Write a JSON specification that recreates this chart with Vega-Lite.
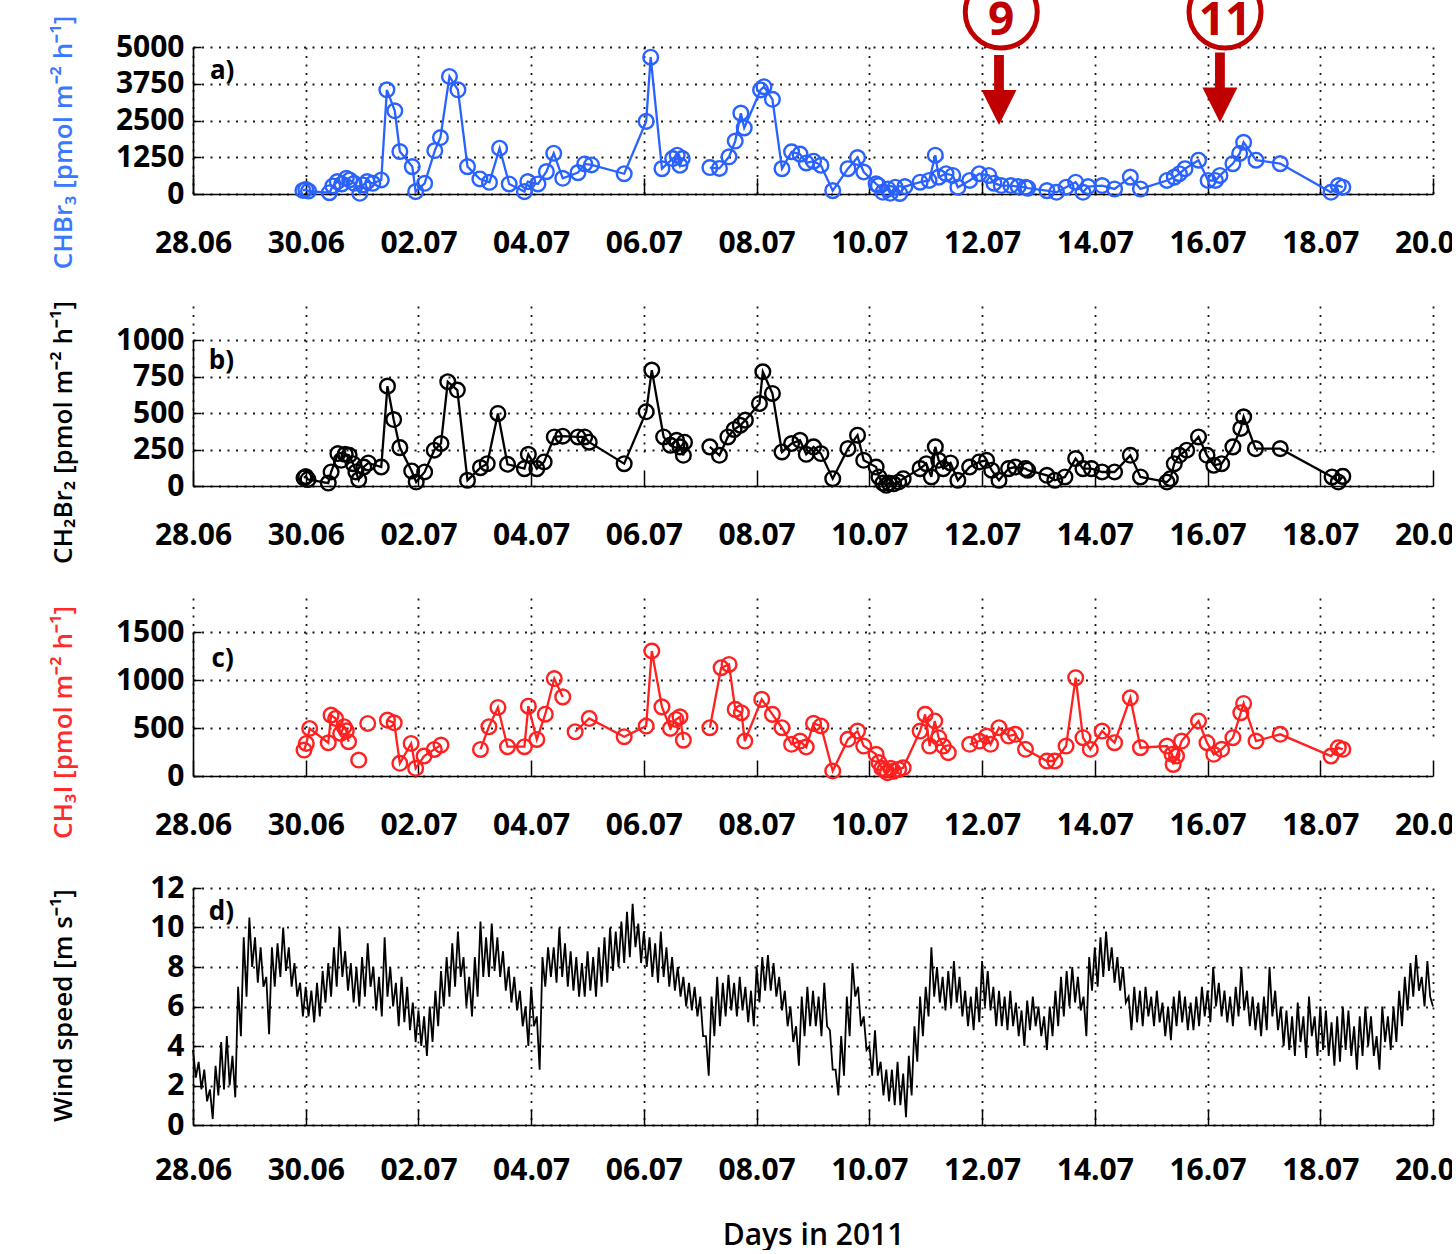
{
"$schema": "https://vega.github.io/schema/vega-lite/v6.json",
"autosize": {"type": "pad"},
"padding": {"left": 50, "top": -34, "right": -20, "bottom": 0},
"background": "white",
"bounds": "flush",
"spacing": 112,
"config": {
  "view": {"stroke": null},
  "font": "Open Sans",
  "axis": {"labelFont": "Open Sans", "labelFontSize": 30, "labelFontWeight": "bold", "labelColor": "black", "domainColor": "black", "domainWidth": 1.6, "tickColor": "black", "tickWidth": 1.5, "gridColor": "black", "gridDash": [2, 6.5], "gridWidth": 1.8, "gridOpacity": 0.9, "titleFont": "Open Sans", "titleFontSize": 26, "titleFontWeight": 600, "titleColor": "black"},
  "axisX": {"tickSize": -16, "labelPadding": 52, "labelFlush": false, "labelOverlap": false, "grid": true},
  "axisY": {"tickSize": -8, "labelPadding": 17, "titleBaseline": "alphabetic", "grid": true, "labelOverlap": false, "format": "d"}
},
"datasets": {
"chbr3": [
{"doy":180.95,"v":120,"seg":1},{"doy":181.0,"v":150,"seg":1},{"doy":181.05,"v":100,"seg":1},{"doy":181.42,"v":45,"seg":1},{"doy":181.48,"v":273,"seg":1},{"doy":181.56,"v":420,"seg":1},{"doy":181.64,"v":341,"seg":1},{"doy":181.72,"v":534,"seg":1},{"doy":181.78,"v":477,"seg":1},{"doy":181.86,"v":364,"seg":1},{"doy":181.96,"v":23,"seg":1},{"doy":182.02,"v":307,"seg":1},{"doy":182.09,"v":420,"seg":1},{"doy":182.19,"v":364,"seg":1},{"doy":182.34,"v":477,"seg":1},{"doy":182.44,"v":3544,"seg":1},{"doy":182.58,"v":2829,"seg":1},{"doy":182.67,"v":1443,"seg":1},{"doy":182.89,"v":932,"seg":1},{"doy":182.95,"v":80,"seg":1},{"doy":183.11,"v":364,"seg":1},{"doy":183.29,"v":1477,"seg":1},{"doy":183.39,"v":1920,"seg":1},{"doy":183.55,"v":3999,"seg":1},{"doy":183.7,"v":3544,"seg":1},{"doy":183.87,"v":932,"seg":1},{"doy":184.09,"v":511,"seg":1},{"doy":184.26,"v":398,"seg":1},{"doy":184.44,"v":1556,"seg":1},{"doy":184.61,"v":341,"seg":1},{"doy":184.88,"v":80,"seg":1},{"doy":184.94,"v":420,"seg":1},{"doy":185.12,"v":341,"seg":1},{"doy":185.27,"v":761,"seg":1},{"doy":185.4,"v":1386,"seg":1},{"doy":185.56,"v":534,"seg":1},{"doy":185.83,"v":727,"seg":1},{"doy":185.95,"v":1022,"seg":1},{"doy":186.07,"v":988,"seg":1},{"doy":186.65,"v":689,"seg":1},{"doy":187.04,"v":2470,"seg":1},{"doy":187.12,"v":4653,"seg":1},{"doy":187.32,"v":862,"seg":1},{"doy":187.51,"v":1206,"seg":1},{"doy":187.59,"v":1321,"seg":1},{"doy":187.64,"v":977,"seg":1},{"doy":187.68,"v":1206,"seg":1},
{"doy":188.17,"v":900,"seg":2},{"doy":188.34,"v":870,"seg":2},{"doy":188.51,"v":1264,"seg":2},{"doy":188.62,"v":1800,"seg":2},{"doy":188.72,"v":2750,"seg":2},{"doy":188.78,"v":2250,"seg":2},{"doy":189.07,"v":3540,"seg":2},{"doy":189.13,"v":3650,"seg":2},{"doy":189.28,"v":3220,"seg":2},{"doy":189.45,"v":862,"seg":2},{"doy":189.62,"v":1436,"seg":2},{"doy":189.77,"v":1356,"seg":2},{"doy":189.88,"v":1057,"seg":2},{"doy":190.01,"v":1115,"seg":2},{"doy":190.14,"v":977,"seg":2},{"doy":190.35,"v":115,"seg":2},{"doy":190.62,"v":862,"seg":2},{"doy":190.79,"v":1241,"seg":2},{"doy":190.9,"v":747,"seg":2},{"doy":191.12,"v":345,"seg":2},{"doy":191.16,"v":287,"seg":2},{"doy":191.24,"v":57,"seg":2},{"doy":191.33,"v":172,"seg":2},{"doy":191.37,"v":23,"seg":2},{"doy":191.46,"v":230,"seg":2},{"doy":191.54,"v":20,"seg":2},{"doy":191.63,"v":253,"seg":2},{"doy":191.9,"v":402,"seg":2},{"doy":192.06,"v":460,"seg":2},{"doy":192.17,"v":1321,"seg":2},{"doy":192.23,"v":575,"seg":2},{"doy":192.36,"v":689,"seg":2},{"doy":192.48,"v":632,"seg":2},{"doy":192.57,"v":230,"seg":2},{"doy":192.78,"v":460,"seg":2},{"doy":192.95,"v":689,"seg":2},{"doy":193.12,"v":632,"seg":2},{"doy":193.21,"v":368,"seg":2},{"doy":193.34,"v":287,"seg":2},{"doy":193.51,"v":287,"seg":2},{"doy":193.64,"v":253,"seg":2},{"doy":193.77,"v":230,"seg":2},{"doy":193.81,"v":200,"seg":2},{"doy":194.15,"v":115,"seg":2},{"doy":194.32,"v":57,"seg":2},{"doy":194.49,"v":230,"seg":2},{"doy":194.66,"v":402,"seg":2},{"doy":194.79,"v":57,"seg":2},{"doy":194.88,"v":253,"seg":2},{"doy":195.13,"v":287,"seg":2},{"doy":195.35,"v":172,"seg":2},{"doy":195.63,"v":575,"seg":2},{"doy":195.81,"v":172,"seg":2},{"doy":196.28,"v":460,"seg":2},{"doy":196.41,"v":575,"seg":2},{"doy":196.5,"v":689,"seg":2},{"doy":196.6,"v":862,"seg":2},{"doy":196.84,"v":1149,"seg":2},{"doy":197.01,"v":460,"seg":2},{"doy":197.14,"v":460,"seg":2},{"doy":197.22,"v":632,"seg":2},{"doy":197.45,"v":1034,"seg":2},{"doy":197.57,"v":1379,"seg":2},{"doy":197.64,"v":1760,"seg":2},{"doy":197.86,"v":1149,"seg":2},{"doy":198.29,"v":1034,"seg":2},{"doy":199.19,"v":57,"seg":2},{"doy":199.32,"v":287,"seg":2},{"doy":199.4,"v":230,"seg":2}
],
"ch2br2": [
{"doy":180.97,"v":55,"seg":1},{"doy":181.0,"v":65,"seg":1},{"doy":181.04,"v":45,"seg":1},{"doy":181.4,"v":20,"seg":1},{"doy":181.45,"v":96,"seg":1},{"doy":181.57,"v":222,"seg":1},{"doy":181.63,"v":176,"seg":1},{"doy":181.7,"v":217,"seg":1},{"doy":181.77,"v":210,"seg":1},{"doy":181.84,"v":153,"seg":1},{"doy":181.89,"v":96,"seg":1},{"doy":181.94,"v":43,"seg":1},{"doy":182.03,"v":130,"seg":1},{"doy":182.11,"v":158,"seg":1},{"doy":182.34,"v":130,"seg":1},{"doy":182.45,"v":684,"seg":1},{"doy":182.56,"v":455,"seg":1},{"doy":182.67,"v":263,"seg":1},{"doy":182.88,"v":103,"seg":1},{"doy":182.96,"v":27,"seg":1},{"doy":183.11,"v":96,"seg":1},{"doy":183.28,"v":245,"seg":1},{"doy":183.4,"v":291,"seg":1},{"doy":183.52,"v":714,"seg":1},{"doy":183.69,"v":657,"seg":1},{"doy":183.87,"v":39,"seg":1},{"doy":184.1,"v":126,"seg":1},{"doy":184.22,"v":153,"seg":1},{"doy":184.41,"v":497,"seg":1},{"doy":184.58,"v":149,"seg":1},{"doy":184.88,"v":119,"seg":1},{"doy":184.95,"v":217,"seg":1},{"doy":185.1,"v":119,"seg":1},{"doy":185.23,"v":165,"seg":1},{"doy":185.41,"v":336,"seg":1},{"doy":185.56,"v":341,"seg":1},{"doy":185.83,"v":336,"seg":1},{"doy":185.95,"v":336,"seg":1},{"doy":186.03,"v":300,"seg":1},{"doy":186.65,"v":153,"seg":1},{"doy":187.04,"v":508,"seg":1},{"doy":187.14,"v":794,"seg":1},{"doy":187.35,"v":336,"seg":1},{"doy":187.47,"v":279,"seg":1},{"doy":187.58,"v":313,"seg":1},{"doy":187.64,"v":268,"seg":1},{"doy":187.7,"v":210,"seg":1},{"doy":187.72,"v":300,"seg":1},
{"doy":188.17,"v":268,"seg":2},{"doy":188.34,"v":210,"seg":2},{"doy":188.49,"v":336,"seg":2},{"doy":188.6,"v":387,"seg":2},{"doy":188.71,"v":416,"seg":2},{"doy":188.8,"v":451,"seg":2},{"doy":189.05,"v":565,"seg":2},{"doy":189.11,"v":782,"seg":2},{"doy":189.28,"v":634,"seg":2},{"doy":189.45,"v":233,"seg":2},{"doy":189.62,"v":291,"seg":2},{"doy":189.77,"v":313,"seg":2},{"doy":189.88,"v":217,"seg":2},{"doy":190.01,"v":268,"seg":2},{"doy":190.14,"v":222,"seg":2},{"doy":190.35,"v":50,"seg":2},{"doy":190.62,"v":256,"seg":2},{"doy":190.79,"v":348,"seg":2},{"doy":190.9,"v":176,"seg":2},{"doy":191.12,"v":130,"seg":2},{"doy":191.17,"v":62,"seg":2},{"doy":191.24,"v":20,"seg":2},{"doy":191.3,"v":5,"seg":2},{"doy":191.35,"v":20,"seg":2},{"doy":191.43,"v":15,"seg":2},{"doy":191.52,"v":27,"seg":2},{"doy":191.6,"v":50,"seg":2},{"doy":191.9,"v":119,"seg":2},{"doy":192.01,"v":153,"seg":2},{"doy":192.1,"v":62,"seg":2},{"doy":192.17,"v":268,"seg":2},{"doy":192.23,"v":176,"seg":2},{"doy":192.31,"v":119,"seg":2},{"doy":192.44,"v":158,"seg":2},{"doy":192.57,"v":39,"seg":2},{"doy":192.78,"v":130,"seg":2},{"doy":192.95,"v":165,"seg":2},{"doy":193.08,"v":176,"seg":2},{"doy":193.17,"v":108,"seg":2},{"doy":193.3,"v":39,"seg":2},{"doy":193.47,"v":119,"seg":2},{"doy":193.59,"v":130,"seg":2},{"doy":193.77,"v":119,"seg":2},{"doy":193.81,"v":108,"seg":2},{"doy":194.15,"v":73,"seg":2},{"doy":194.29,"v":39,"seg":2},{"doy":194.47,"v":62,"seg":2},{"doy":194.66,"v":188,"seg":2},{"doy":194.79,"v":119,"seg":2},{"doy":194.94,"v":119,"seg":2},{"doy":195.13,"v":96,"seg":2},{"doy":195.35,"v":96,"seg":2},{"doy":195.63,"v":210,"seg":2},{"doy":195.81,"v":62,"seg":2},{"doy":196.28,"v":27,"seg":2},{"doy":196.34,"v":50,"seg":2},{"doy":196.41,"v":153,"seg":2},{"doy":196.5,"v":210,"seg":2},{"doy":196.63,"v":245,"seg":2},{"doy":196.84,"v":336,"seg":2},{"doy":196.99,"v":210,"seg":2},{"doy":197.11,"v":142,"seg":2},{"doy":197.25,"v":153,"seg":2},{"doy":197.45,"v":268,"seg":2},{"doy":197.59,"v":394,"seg":2},{"doy":197.64,"v":474,"seg":2},{"doy":197.85,"v":256,"seg":2},{"doy":198.29,"v":256,"seg":2},{"doy":199.21,"v":62,"seg":2},{"doy":199.32,"v":27,"seg":2},{"doy":199.4,"v":66,"seg":2}
],
"ch3i": [
{"doy":180.97,"v":270,"seg":1},{"doy":181.01,"v":339,"seg":1},{"doy":181.07,"v":495,"seg":1},{"doy":181.4,"v":346,"seg":1},{"doy":181.45,"v":634,"seg":1},{"doy":181.53,"v":599,"seg":1},{"doy":181.62,"v":443,"seg":1},{"doy":181.68,"v":513,"seg":1},{"doy":181.72,"v":471,"seg":1},{"doy":181.76,"v":357,"seg":1},
{"doy":181.94,"v":166,"seg":2},
{"doy":182.1,"v":547,"seg":3},
{"doy":182.45,"v":582,"seg":4},{"doy":182.57,"v":554,"seg":4},{"doy":182.67,"v":132,"seg":4},{"doy":182.87,"v":339,"seg":4},{"doy":182.95,"v":80,"seg":4},{"doy":183.1,"v":208,"seg":4},{"doy":183.28,"v":277,"seg":4},{"doy":183.4,"v":322,"seg":4},
{"doy":184.1,"v":277,"seg":5},{"doy":184.25,"v":513,"seg":5},{"doy":184.41,"v":714,"seg":5},{"doy":184.58,"v":305,"seg":5},{"doy":184.88,"v":305,"seg":5},{"doy":184.95,"v":727,"seg":5},{"doy":185.1,"v":381,"seg":5},{"doy":185.25,"v":644,"seg":5},{"doy":185.41,"v":1015,"seg":5},{"doy":185.56,"v":824,"seg":5},
{"doy":185.78,"v":461,"seg":6},{"doy":186.03,"v":599,"seg":6},{"doy":186.65,"v":409,"seg":6},{"doy":187.04,"v":520,"seg":6},{"doy":187.14,"v":1302,"seg":6},{"doy":187.32,"v":720,"seg":6},{"doy":187.47,"v":495,"seg":6},{"doy":187.57,"v":589,"seg":6},{"doy":187.64,"v":617,"seg":6},{"doy":187.7,"v":374,"seg":6},
{"doy":188.17,"v":503,"seg":7},{"doy":188.37,"v":1128,"seg":7},{"doy":188.51,"v":1162,"seg":7},{"doy":188.62,"v":694,"seg":7},{"doy":188.73,"v":659,"seg":7},{"doy":188.79,"v":364,"seg":7},{"doy":189.09,"v":798,"seg":7},{"doy":189.28,"v":642,"seg":7},{"doy":189.45,"v":503,"seg":7},{"doy":189.62,"v":330,"seg":7},{"doy":189.77,"v":364,"seg":7},{"doy":189.88,"v":302,"seg":7},{"doy":190.01,"v":548,"seg":7},{"doy":190.14,"v":521,"seg":7},{"doy":190.35,"v":52,"seg":7},{"doy":190.62,"v":382,"seg":7},{"doy":190.79,"v":468,"seg":7},{"doy":190.9,"v":312,"seg":7},{"doy":191.12,"v":226,"seg":7},{"doy":191.17,"v":140,"seg":7},{"doy":191.22,"v":80,"seg":7},{"doy":191.27,"v":60,"seg":7},{"doy":191.32,"v":35,"seg":7},{"doy":191.38,"v":80,"seg":7},{"doy":191.43,"v":50,"seg":7},{"doy":191.52,"v":70,"seg":7},{"doy":191.6,"v":85,"seg":7},{"doy":191.9,"v":468,"seg":7},{"doy":191.99,"v":642,"seg":7},{"doy":192.07,"v":312,"seg":7},{"doy":192.16,"v":573,"seg":7},{"doy":192.23,"v":399,"seg":7},{"doy":192.31,"v":312,"seg":7},{"doy":192.4,"v":243,"seg":7},
{"doy":192.78,"v":330,"seg":8},{"doy":192.95,"v":364,"seg":8},{"doy":193.08,"v":416,"seg":8},{"doy":193.15,"v":330,"seg":8},{"doy":193.3,"v":503,"seg":8},{"doy":193.47,"v":416,"seg":8},{"doy":193.59,"v":434,"seg":8},{"doy":193.77,"v":278,"seg":8},{"doy":194.15,"v":156,"seg":8},{"doy":194.29,"v":156,"seg":8},{"doy":194.49,"v":312,"seg":8},{"doy":194.66,"v":1024,"seg":8},{"doy":194.79,"v":399,"seg":8},{"doy":194.92,"v":278,"seg":8},{"doy":195.13,"v":468,"seg":8},{"doy":195.35,"v":347,"seg":8},{"doy":195.63,"v":815,"seg":8},{"doy":195.81,"v":295,"seg":8},{"doy":196.28,"v":312,"seg":8},{"doy":196.37,"v":226,"seg":8},{"doy":196.39,"v":121,"seg":8},{"doy":196.45,"v":208,"seg":8},{"doy":196.54,"v":364,"seg":8},{"doy":196.84,"v":573,"seg":8},{"doy":196.99,"v":347,"seg":8},{"doy":197.11,"v":226,"seg":8},{"doy":197.25,"v":278,"seg":8},{"doy":197.45,"v":399,"seg":8},{"doy":197.59,"v":659,"seg":8},{"doy":197.64,"v":756,"seg":8},{"doy":197.86,"v":364,"seg":8},{"doy":198.29,"v":434,"seg":8},{"doy":199.19,"v":208,"seg":8},{"doy":199.32,"v":295,"seg":8},{"doy":199.4,"v":278,"seg":8}
],
"wind": [
{"doy":179.0,"v":3.8},{"doy":179.05,"v":2.4},{"doy":179.1,"v":3.2},{"doy":179.15,"v":1.8},{"doy":179.2,"v":2.8},{"doy":179.25,"v":1.2},{"doy":179.3,"v":1.8},{"doy":179.35,"v":0.3},{"doy":179.4,"v":3.0},{"doy":179.45,"v":1.5},
{"doy":179.5,"v":4.2},{"doy":179.55,"v":1.8},{"doy":179.6,"v":4.5},{"doy":179.65,"v":2.0},{"doy":179.7,"v":3.5},{"doy":179.75,"v":1.4},{"doy":179.8,"v":7.0},{"doy":179.85,"v":4.5},{"doy":179.9,"v":9.5},{"doy":179.95,"v":6.5},
{"doy":180.0,"v":10.5},{"doy":180.05,"v":8.0},{"doy":180.1,"v":9.5},{"doy":180.15,"v":7.2},{"doy":180.2,"v":9.0},{"doy":180.25,"v":7.0},{"doy":180.3,"v":7.5},{"doy":180.35,"v":4.6},{"doy":180.4,"v":9.0},{"doy":180.45,"v":7.0},
{"doy":180.5,"v":9.2},{"doy":180.55,"v":7.5},{"doy":180.6,"v":10.0},{"doy":180.65,"v":7.8},{"doy":180.7,"v":9.0},{"doy":180.75,"v":7.0},{"doy":180.8,"v":8.2},{"doy":180.85,"v":6.5},{"doy":180.9,"v":7.2},{"doy":180.95,"v":5.5},
{"doy":181.0,"v":7.0},{"doy":181.05,"v":5.5},{"doy":181.1,"v":6.8},{"doy":181.15,"v":5.2},{"doy":181.2,"v":7.2},{"doy":181.25,"v":5.5},{"doy":181.3,"v":7.8},{"doy":181.35,"v":6.2},{"doy":181.4,"v":8.2},{"doy":181.45,"v":6.5},
{"doy":181.5,"v":9.0},{"doy":181.55,"v":7.0},{"doy":181.6,"v":10.0},{"doy":181.65,"v":7.5},{"doy":181.7,"v":8.8},{"doy":181.75,"v":6.8},{"doy":181.8,"v":8.2},{"doy":181.85,"v":6.2},{"doy":181.9,"v":8.0},{"doy":181.95,"v":6.0},
{"doy":182.0,"v":8.5},{"doy":182.05,"v":6.5},{"doy":182.1,"v":9.2},{"doy":182.15,"v":7.0},{"doy":182.2,"v":8.0},{"doy":182.25,"v":5.8},{"doy":182.3,"v":7.5},{"doy":182.35,"v":5.5},{"doy":182.4,"v":9.5},{"doy":182.45,"v":6.5},
{"doy":182.5,"v":8.0},{"doy":182.55,"v":6.0},{"doy":182.6,"v":7.2},{"doy":182.65,"v":5.0},{"doy":182.7,"v":7.5},{"doy":182.75,"v":5.2},{"doy":182.8,"v":7.0},{"doy":182.85,"v":4.8},{"doy":182.9,"v":6.2},{"doy":182.95,"v":4.2},
{"doy":183.0,"v":5.8},{"doy":183.05,"v":4.0},{"doy":183.1,"v":5.5},{"doy":183.15,"v":3.5},{"doy":183.2,"v":6.0},{"doy":183.25,"v":4.2},{"doy":183.3,"v":6.8},{"doy":183.35,"v":5.0},{"doy":183.4,"v":7.8},{"doy":183.45,"v":6.0},
{"doy":183.5,"v":8.5},{"doy":183.55,"v":6.5},{"doy":183.6,"v":9.2},{"doy":183.65,"v":7.0},{"doy":183.7,"v":9.8},{"doy":183.75,"v":7.5},{"doy":183.8,"v":8.5},{"doy":183.85,"v":6.0},{"doy":183.9,"v":7.5},{"doy":183.95,"v":5.5},
{"doy":184.0,"v":8.5},{"doy":184.05,"v":6.5},{"doy":184.1,"v":10.3},{"doy":184.15,"v":7.5},{"doy":184.2,"v":9.5},{"doy":184.25,"v":7.5},{"doy":184.3,"v":10.2},{"doy":184.35,"v":7.8},{"doy":184.4,"v":9.5},{"doy":184.45,"v":7.5},
{"doy":184.5,"v":8.8},{"doy":184.55,"v":6.8},{"doy":184.6,"v":8.0},{"doy":184.65,"v":6.2},{"doy":184.7,"v":7.5},{"doy":184.75,"v":5.8},{"doy":184.8,"v":6.8},{"doy":184.85,"v":5.0},{"doy":184.9,"v":6.0},{"doy":184.95,"v":4.0},
{"doy":185.0,"v":7.0},{"doy":185.05,"v":5.0},{"doy":185.1,"v":5.5},{"doy":185.15,"v":2.8},{"doy":185.2,"v":8.5},{"doy":185.25,"v":7.0},{"doy":185.3,"v":9.0},{"doy":185.35,"v":7.5},{"doy":185.4,"v":9.0},{"doy":185.45,"v":7.2},
{"doy":185.5,"v":10.0},{"doy":185.55,"v":7.5},{"doy":185.6,"v":9.2},{"doy":185.65,"v":7.0},{"doy":185.7,"v":8.8},{"doy":185.75,"v":6.8},{"doy":185.8,"v":8.5},{"doy":185.85,"v":6.5},{"doy":185.9,"v":8.2},{"doy":185.95,"v":6.5},
{"doy":186.0,"v":8.8},{"doy":186.05,"v":6.8},{"doy":186.1,"v":8.5},{"doy":186.15,"v":6.5},{"doy":186.2,"v":9.0},{"doy":186.25,"v":7.0},{"doy":186.3,"v":9.5},{"doy":186.35,"v":7.2},{"doy":186.4,"v":10.0},{"doy":186.45,"v":7.8},
{"doy":186.5,"v":9.8},{"doy":186.55,"v":8.0},{"doy":186.6,"v":10.3},{"doy":186.65,"v":8.2},{"doy":186.7,"v":10.8},{"doy":186.75,"v":8.5},{"doy":186.8,"v":11.2},{"doy":186.85,"v":9.0},{"doy":186.9,"v":10.2},{"doy":186.95,"v":8.2},
{"doy":187.0,"v":9.8},{"doy":187.05,"v":8.0},{"doy":187.1,"v":9.5},{"doy":187.15,"v":7.5},{"doy":187.2,"v":9.2},{"doy":187.25,"v":7.2},{"doy":187.3,"v":9.8},{"doy":187.35,"v":7.5},{"doy":187.4,"v":9.0},{"doy":187.45,"v":7.0},
{"doy":187.5,"v":8.5},{"doy":187.55,"v":6.8},{"doy":187.6,"v":8.0},{"doy":187.65,"v":6.5},{"doy":187.7,"v":7.5},{"doy":187.75,"v":6.0},{"doy":187.8,"v":7.2},{"doy":187.85,"v":5.8},{"doy":187.9,"v":7.0},{"doy":187.95,"v":5.5},
{"doy":188.0,"v":6.5},{"doy":188.05,"v":4.5},{"doy":188.1,"v":4.5},{"doy":188.15,"v":2.5},{"doy":188.2,"v":6.5},{"doy":188.25,"v":4.5},{"doy":188.3,"v":7.5},{"doy":188.35,"v":5.0},{"doy":188.4,"v":7.2},{"doy":188.45,"v":5.5},
{"doy":188.5,"v":7.6},{"doy":188.55,"v":5.8},{"doy":188.6,"v":7.2},{"doy":188.65,"v":5.5},{"doy":188.7,"v":7.5},{"doy":188.75,"v":5.8},{"doy":188.8,"v":7.0},{"doy":188.85,"v":5.2},{"doy":188.9,"v":6.8},{"doy":188.95,"v":5.0},
{"doy":189.0,"v":8.0},{"doy":189.05,"v":6.2},{"doy":189.1,"v":8.5},{"doy":189.15,"v":6.8},{"doy":189.2,"v":8.6},{"doy":189.25,"v":6.8},{"doy":189.3,"v":8.2},{"doy":189.35,"v":6.5},{"doy":189.4,"v":7.5},{"doy":189.45,"v":5.8},
{"doy":189.5,"v":6.8},{"doy":189.55,"v":5.0},{"doy":189.6,"v":6.0},{"doy":189.65,"v":4.2},{"doy":189.7,"v":5.0},{"doy":189.75,"v":3.0},{"doy":189.8,"v":6.5},{"doy":189.85,"v":4.5},{"doy":189.9,"v":7.0},{"doy":189.95,"v":5.0},
{"doy":190.0,"v":6.8},{"doy":190.05,"v":5.0},{"doy":190.1,"v":6.5},{"doy":190.15,"v":4.5},{"doy":190.2,"v":7.2},{"doy":190.25,"v":5.0},{"doy":190.3,"v":4.8},{"doy":190.35,"v":2.8},{"doy":190.4,"v":2.8},{"doy":190.45,"v":1.5},
{"doy":190.5,"v":4.5},{"doy":190.55,"v":2.5},{"doy":190.6,"v":6.5},{"doy":190.65,"v":4.5},{"doy":190.7,"v":8.2},{"doy":190.75,"v":6.5},{"doy":190.8,"v":7.0},{"doy":190.85,"v":5.0},{"doy":190.9,"v":5.5},{"doy":190.95,"v":3.8},
{"doy":191.0,"v":4.0},{"doy":191.05,"v":2.5},{"doy":191.1,"v":4.8},{"doy":191.15,"v":2.5},{"doy":191.2,"v":3.2},{"doy":191.25,"v":1.5},{"doy":191.3,"v":2.8},{"doy":191.35,"v":1.2},{"doy":191.4,"v":2.8},{"doy":191.45,"v":1.0},
{"doy":191.5,"v":3.2},{"doy":191.55,"v":1.0},{"doy":191.6,"v":2.6},{"doy":191.65,"v":0.4},{"doy":191.7,"v":3.5},{"doy":191.75,"v":1.5},{"doy":191.8,"v":5.0},{"doy":191.85,"v":3.2},{"doy":191.9,"v":6.5},{"doy":191.95,"v":4.5},
{"doy":192.0,"v":7.0},{"doy":192.05,"v":5.5},{"doy":192.1,"v":9.0},{"doy":192.15,"v":6.5},{"doy":192.2,"v":8.0},{"doy":192.25,"v":6.2},{"doy":192.3,"v":7.5},{"doy":192.35,"v":5.8},{"doy":192.4,"v":7.8},{"doy":192.45,"v":6.0},
{"doy":192.5,"v":8.3},{"doy":192.55,"v":6.2},{"doy":192.6,"v":7.5},{"doy":192.65,"v":5.5},{"doy":192.7,"v":6.8},{"doy":192.75,"v":5.0},{"doy":192.8,"v":6.5},{"doy":192.85,"v":4.8},{"doy":192.9,"v":7.0},{"doy":192.95,"v":5.2},
{"doy":193.0,"v":8.3},{"doy":193.05,"v":6.0},{"doy":193.1,"v":7.8},{"doy":193.15,"v":5.8},{"doy":193.2,"v":7.0},{"doy":193.25,"v":5.0},{"doy":193.3,"v":6.8},{"doy":193.35,"v":5.0},{"doy":193.4,"v":6.5},{"doy":193.45,"v":4.8},
{"doy":193.5,"v":6.8},{"doy":193.55,"v":5.0},{"doy":193.6,"v":6.2},{"doy":193.65,"v":4.5},{"doy":193.7,"v":5.8},{"doy":193.75,"v":4.0},{"doy":193.8,"v":6.3},{"doy":193.85,"v":4.8},{"doy":193.9,"v":6.5},{"doy":193.95,"v":5.0},
{"doy":194.0,"v":6.0},{"doy":194.05,"v":4.5},{"doy":194.1,"v":5.5},{"doy":194.15,"v":3.8},{"doy":194.2,"v":6.0},{"doy":194.25,"v":4.5},{"doy":194.3,"v":6.8},{"doy":194.35,"v":5.0},{"doy":194.4,"v":7.5},{"doy":194.45,"v":5.5},
{"doy":194.5,"v":7.8},{"doy":194.55,"v":6.0},{"doy":194.6,"v":8.0},{"doy":194.65,"v":6.2},{"doy":194.7,"v":7.5},{"doy":194.75,"v":5.8},{"doy":194.8,"v":6.5},{"doy":194.85,"v":4.5},{"doy":194.9,"v":8.5},{"doy":194.95,"v":6.8},
{"doy":195.0,"v":9.0},{"doy":195.05,"v":7.0},{"doy":195.1,"v":9.5},{"doy":195.15,"v":7.5},{"doy":195.2,"v":9.8},{"doy":195.25,"v":7.8},{"doy":195.3,"v":9.0},{"doy":195.35,"v":7.2},{"doy":195.4,"v":8.5},{"doy":195.45,"v":6.8},
{"doy":195.5,"v":8.0},{"doy":195.55,"v":6.2},{"doy":195.6,"v":6.5},{"doy":195.65,"v":4.8},{"doy":195.7,"v":7.0},{"doy":195.75,"v":5.2},{"doy":195.8,"v":6.8},{"doy":195.85,"v":5.0},{"doy":195.9,"v":7.0},{"doy":195.95,"v":5.5},
{"doy":196.0,"v":6.5},{"doy":196.05,"v":5.0},{"doy":196.1,"v":6.8},{"doy":196.15,"v":5.2},{"doy":196.2,"v":6.2},{"doy":196.25,"v":4.5},{"doy":196.3,"v":6.0},{"doy":196.35,"v":4.3},{"doy":196.4,"v":6.5},{"doy":196.45,"v":5.0},
{"doy":196.5,"v":6.8},{"doy":196.55,"v":5.2},{"doy":196.6,"v":6.5},{"doy":196.65,"v":4.8},{"doy":196.7,"v":6.2},{"doy":196.75,"v":4.8},{"doy":196.8,"v":6.5},{"doy":196.85,"v":5.0},{"doy":196.9,"v":7.0},{"doy":196.95,"v":5.5},
{"doy":197.0,"v":6.8},{"doy":197.05,"v":5.2},{"doy":197.1,"v":8.0},{"doy":197.15,"v":6.0},{"doy":197.2,"v":7.2},{"doy":197.25,"v":5.5},{"doy":197.3,"v":6.8},{"doy":197.35,"v":5.2},{"doy":197.4,"v":6.5},{"doy":197.45,"v":5.0},
{"doy":197.5,"v":7.0},{"doy":197.55,"v":5.5},{"doy":197.6,"v":8.0},{"doy":197.65,"v":5.8},{"doy":197.7,"v":6.8},{"doy":197.75,"v":5.0},{"doy":197.8,"v":6.5},{"doy":197.85,"v":4.8},{"doy":197.9,"v":6.2},{"doy":197.95,"v":4.5},
{"doy":198.0,"v":6.5},{"doy":198.05,"v":4.8},{"doy":198.1,"v":8.0},{"doy":198.15,"v":5.5},{"doy":198.2,"v":6.8},{"doy":198.25,"v":4.8},{"doy":198.3,"v":6.0},{"doy":198.35,"v":4.0},{"doy":198.4,"v":5.8},{"doy":198.45,"v":3.8},
{"doy":198.5,"v":5.5},{"doy":198.55,"v":3.5},{"doy":198.6,"v":6.2},{"doy":198.65,"v":4.2},{"doy":198.7,"v":5.5},{"doy":198.75,"v":3.4},{"doy":198.8,"v":6.5},{"doy":198.85,"v":4.5},{"doy":198.9,"v":5.5},{"doy":198.95,"v":3.5},
{"doy":199.0,"v":6.0},{"doy":199.05,"v":3.8},{"doy":199.1,"v":5.8},{"doy":199.15,"v":3.5},{"doy":199.2,"v":5.2},{"doy":199.25,"v":3.0},{"doy":199.3,"v":5.5},{"doy":199.35,"v":3.2},{"doy":199.4,"v":6.0},{"doy":199.45,"v":3.8},
{"doy":199.5,"v":5.8},{"doy":199.55,"v":3.5},{"doy":199.6,"v":5.0},{"doy":199.65,"v":2.8},{"doy":199.7,"v":5.5},{"doy":199.75,"v":3.5},{"doy":199.8,"v":6.0},{"doy":199.85,"v":4.0},{"doy":199.9,"v":5.5},{"doy":199.95,"v":3.5},
{"doy":200.0,"v":4.5},{"doy":200.05,"v":2.8},{"doy":200.1,"v":6.0},{"doy":200.15,"v":4.2},{"doy":200.2,"v":5.5},{"doy":200.25,"v":3.8},{"doy":200.3,"v":6.0},{"doy":200.35,"v":4.2},{"doy":200.4,"v":6.8},{"doy":200.45,"v":5.0},
{"doy":200.5,"v":7.5},{"doy":200.55,"v":5.8},{"doy":200.6,"v":8.2},{"doy":200.65,"v":6.5},{"doy":200.7,"v":8.6},{"doy":200.75,"v":6.8},{"doy":200.8,"v":7.5},{"doy":200.85,"v":6.0},{"doy":200.9,"v":8.3},{"doy":200.95,"v":6.5},
{"doy":201.0,"v":6.0}
]
},
"vconcat": [
{
 "width": 1240, "height": 147,
 "encoding": {
  "x": {"field": "doy", "type": "quantitative", "scale": {"domain": [179, 201], "nice": false, "zero": false}, "axis": {"values": [179,181,183,185,187,189,191,193,195,197,199,201], "labelExpr": "timeFormat(datetime(2011,0,datum.value),'%d.%m')", "title": null, "labelPadding": 50}},
  "y": {"field": "v", "type": "quantitative", "scale": {"domain": [0, 5000], "nice": false, "zero": false}, "axis": {"values": [0,1250,2500,3750,5000], "title": "CHBr₃ [pmol m⁻² h⁻¹]", "titleColor": "#3a78ff", "titleX": -122, "titleY": 95}}
 },
 "layer": [
  {"data": {"name": "chbr3"}, "mark": {"type": "line", "color": "#2a62ff", "strokeWidth": 2.3}, "encoding": {"detail": {"field": "seg"}}},
  {"data": {"name": "chbr3"}, "mark": {"type": "point", "shape": "circle", "filled": false, "color": "#2a62ff", "size": 215, "strokeWidth": 2.4, "opacity": 1}},
  {"data": {"values": [{"doy": 179.3, "v": 4180, "t": "a)"}]}, "mark": {"type": "text", "align": "left", "baseline": "middle", "fontSize": 26, "fontWeight": "bold", "color": "black"}, "encoding": {"text": {"field": "t"}}},
  {"data": {"values": [{"doy": 193.3, "v": 3537}, {"doy": 197.22, "v": 3622}]}, "mark": {"type": "point", "shape": "M-0.14,-1L0.14,-1L0.14,0L0.5,0L0,1L-0.5,0L-0.14,0Z", "filled": true, "color": "#c00000", "size": 4900, "opacity": 1}},
  {"data": {"values": [{"doy": 193.34, "v": 6190}, {"doy": 197.31, "v": 6190}]}, "mark": {"type": "point", "shape": "circle", "filled": true, "fill": "white", "stroke": "#c00000", "strokeWidth": 5, "size": 5184, "opacity": 1}},
  {"data": {"values": [{"doy": 193.34, "v": 5900, "t": "9"}, {"doy": 197.31, "v": 5900, "t": "11"}]}, "mark": {"type": "text", "align": "center", "baseline": "middle", "fontSize": 46, "fontWeight": "bold", "color": "#c00000"}, "encoding": {"text": {"field": "t"}}}
 ]
},
{
 "width": 1240, "height": 180,
 "encoding": {
  "x": {"field": "doy", "type": "quantitative", "scale": {"domain": [179, 201], "nice": false, "zero": false}, "axis": {"values": [179,181,183,185,187,189,191,193,195,197,199,201], "labelExpr": "timeFormat(datetime(2011,0,datum.value),'%d.%m')", "title": null, "labelPadding": 50}},
  "y": {"field": "v", "type": "quantitative", "scale": {"domain": [0, 1000], "range": [180, 34], "nice": false, "zero": false}, "axis": {"values": [0,250,500,750,1000], "title": "CH₂Br₂ [pmol m⁻² h⁻¹]", "titleX": -122, "titleY": 126}}
 },
 "layer": [
  {"data": {"name": "ch2br2"}, "mark": {"type": "line", "color": "black", "strokeWidth": 2.3}, "encoding": {"detail": {"field": "seg"}}},
  {"data": {"name": "ch2br2"}, "mark": {"type": "point", "shape": "circle", "filled": false, "color": "black", "size": 215, "strokeWidth": 2.4, "opacity": 1}},
  {"data": {"values": [{"doy": 179.28, "v": 855, "t": "b)"}]}, "mark": {"type": "text", "align": "left", "baseline": "middle", "fontSize": 26, "fontWeight": "bold", "color": "black"}, "encoding": {"text": {"field": "t"}}}
 ]
},
{
 "width": 1240, "height": 178,
 "encoding": {
  "x": {"field": "doy", "type": "quantitative", "scale": {"domain": [179, 201], "nice": false, "zero": false}, "axis": {"values": [179,181,183,185,187,189,191,193,195,197,199,201], "labelExpr": "timeFormat(datetime(2011,0,datum.value),'%d.%m')", "title": null, "labelPadding": 50}},
  "y": {"field": "v", "type": "quantitative", "scale": {"domain": [0, 1500], "range": [178, 34], "nice": false, "zero": false}, "axis": {"values": [0,500,1000,1500], "title": "CH₃I [pmol m⁻² h⁻¹]", "titleColor": "#ff2b2b", "titleX": -122, "titleY": 124}}
 },
 "layer": [
  {"data": {"name": "ch3i"}, "mark": {"type": "line", "color": "#ff2020", "strokeWidth": 2.3}, "encoding": {"detail": {"field": "seg"}}},
  {"data": {"name": "ch3i"}, "mark": {"type": "point", "shape": "circle", "filled": false, "color": "#ff2020", "size": 215, "strokeWidth": 2.4, "opacity": 1}},
  {"data": {"values": [{"doy": 179.33, "v": 1221, "t": "c)"}]}, "mark": {"type": "text", "align": "left", "baseline": "middle", "fontSize": 26, "fontWeight": "bold", "color": "black"}, "encoding": {"text": {"field": "t"}}}
 ]
},
{
 "width": 1240, "height": 237,
 "encoding": {
  "x": {"field": "doy", "type": "quantitative", "scale": {"domain": [179, 201], "nice": false, "zero": false}, "axis": {"values": [179,181,183,185,187,189,191,193,195,197,199,201], "labelExpr": "timeFormat(datetime(2011,0,datum.value),'%d.%m')", "labelPadding": 46, "title": "Days in 2011", "titleFontSize": 30, "titleY": 95, "titleBaseline": "top"}},
  "y": {"field": "v", "type": "quantitative", "scale": {"domain": [0, 12], "nice": false, "zero": false}, "axis": {"values": [0,2,4,6,8,10,12], "title": "Wind speed [m s⁻¹]", "titleX": -122, "titleY": 117}}
 },
 "layer": [
  {"data": {"name": "wind"}, "mark": {"type": "line", "color": "black", "strokeWidth": 1.8}},
  {"data": {"values": [{"doy": 179.28, "v": 10.8, "t": "d)"}]}, "mark": {"type": "text", "align": "left", "baseline": "middle", "fontSize": 26, "fontWeight": "bold", "color": "black"}, "encoding": {"text": {"field": "t"}}}
 ]
}
]
}
